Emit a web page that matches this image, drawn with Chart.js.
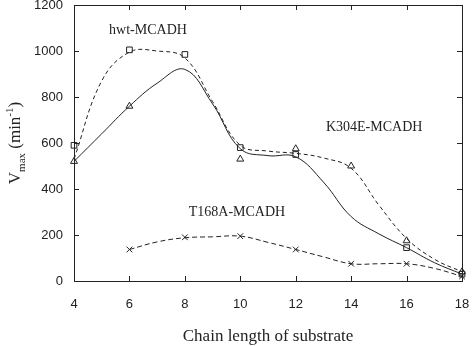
<!DOCTYPE html>
<html>
<head>
<meta charset="utf-8">
<script src="https://cdn.jsdelivr.net/npm/chart.js@4"></script>
<style>
  html, body { margin: 0; padding: 0; background: #fff; }
  #wrap { width: 474px; height: 346px; }
</style>
</head>
<body>
<div id="wrap"><canvas id="chart"></canvas></div>
<script>
// chain length ticks
const xTicks = [4, 6, 8, 10, 12, 14, 16, 18];
const yTicks = [0, 200, 400, 600, 800, 1000, 1200];

// measured points
const squareX = [4, 6, 8, 10, 12, 16, 18];
const squareY = [590, 1005, 985, 580, 550, 145, 30];
const triangleX = [4, 6, 10, 12, 14, 16, 18];
const triangleY = [520, 760, 530, 575, 500, 175, 40];
const crossX = [6, 8, 10, 12, 14, 16, 18];
const crossY = [137, 190, 195, 137, 75, 75, 20];

// fitted curves
const curveX = [4, 5, 6, 7, 8, 9, 10, 11, 12, 13, 14, 15, 16, 17, 18];
const hwtCurve = [530, 870, 995, 1000, 970, 780, 590, 565, 555, 535, 490, 330, 185, 95, 40];
const k304Curve = [520, 640, 760, 860, 920, 770, 575, 545, 540, 430, 280, 205, 145, 80, 30];
const t168X = [6, 7, 8, 9, 10, 11, 12, 13, 14, 15, 16, 17, 18];
const t168Curve = [137, 170, 188, 192, 195, 168, 137, 105, 75, 75, 75, 55, 20];

const labels = [
    { text: "hwt-MCADH", x: 6.67, y: 1092 },
    { text: "K304E-MCADH", x: 14.83, y: 667 },
    { text: "T168A-MCADH", x: 9.88, y: 299 }
];

const pts = (xs, ys) => xs.map((x, i) => ({ x: x, y: ys[i] }));
const ink = '#222';

// frame, inward ticks, axis titles and curve labels
const decor = {
    id: 'decor',
    afterDatasetsDraw(chart) {
        const { ctx, chartArea: a, scales: { x, y } } = chart;
        ctx.save();
        ctx.strokeStyle = ink;
        ctx.lineWidth = 1;
        ctx.strokeRect(a.left + 0.5, a.top + 0.5, a.right - a.left, a.bottom - a.top);
        ctx.beginPath();
        xTicks.forEach(v => {
            const px = Math.round(x.getPixelForValue(v)) + 0.5;
            ctx.moveTo(px, a.bottom); ctx.lineTo(px, a.bottom - 5);
            ctx.moveTo(px, a.top); ctx.lineTo(px, a.top + 5);
        });
        yTicks.forEach(v => {
            const py = Math.round(y.getPixelForValue(v)) + 0.5;
            ctx.moveTo(a.left, py); ctx.lineTo(a.left + 5, py);
            ctx.moveTo(a.right, py); ctx.lineTo(a.right - 5, py);
        });
        ctx.stroke();

        ctx.fillStyle = ink;
        ctx.textAlign = 'center';
        ctx.textBaseline = 'middle';
        ctx.font = '14px "Liberation Serif"';
        labels.forEach(l => {
            ctx.fillText(l.text, x.getPixelForValue(l.x), y.getPixelForValue(l.y));
        });

        // x title
        ctx.font = '17px "Liberation Serif"';
        ctx.fillText('Chain length of substrate', (a.left + a.right) / 2, 337);

        // y title with subscript / superscript
        ctx.translate(16, (a.top + a.bottom) / 2);
        ctx.rotate(-Math.PI / 2);
        ctx.textAlign = 'left';
        const p1 = 'V', p2 = 'max', p3 = ' (min', p4 = '-1', p5 = ')';
        ctx.font = '17px "Liberation Serif"';
        const w1 = ctx.measureText(p1).width, w3 = ctx.measureText(p3).width, w5 = ctx.measureText(p5).width;
        ctx.font = '11px "Liberation Serif"';
        const w2 = ctx.measureText(p2).width, w4 = ctx.measureText(p4).width;
        let cx = -(w1 + w2 + w3 + w4 + w5) / 2;
        ctx.font = '17px "Liberation Serif"';
        ctx.fillText(p1, cx, 0); cx += w1;
        ctx.font = '11px "Liberation Serif"';
        ctx.fillText(p2, cx, 6); cx += w2;
        ctx.font = '17px "Liberation Serif"';
        ctx.fillText(p3, cx, 0); cx += w3;
        ctx.font = '11px "Liberation Serif"';
        ctx.fillText(p4, cx, -6); cx += w4;
        ctx.font = '17px "Liberation Serif"';
        ctx.fillText(p5, cx, 0);
        ctx.restore();
    }
};

new Chart(document.getElementById('chart'), {
    type: 'scatter',
    data: {
        datasets: [
            { data: pts(curveX, hwtCurve), showLine: true, tension: 0.4, borderColor: ink, borderWidth: 1, borderDash: [4, 3], pointRadius: 0 },
            { data: pts(curveX, k304Curve), showLine: true, tension: 0.4, borderColor: ink, borderWidth: 1, pointRadius: 0 },
            { data: pts(t168X, t168Curve), showLine: true, tension: 0.4, borderColor: ink, borderWidth: 1, borderDash: [5, 3], pointRadius: 0 },
            { data: pts(squareX, squareY), pointStyle: 'rect', pointRadius: 4, borderColor: ink, borderWidth: 1, backgroundColor: 'transparent' },
            { data: pts(triangleX, triangleY), pointStyle: 'triangle', pointRadius: 4, borderColor: ink, borderWidth: 1, backgroundColor: 'transparent' },
            { data: pts(crossX, crossY), pointStyle: 'crossRot', pointRadius: 4, borderColor: ink, borderWidth: 1 }
        ]
    },
    options: {
        responsive: true,
        maintainAspectRatio: false,
        animation: false,
        clip: false,
        layout: { padding: { left: 0, right: 12, top: 4, bottom: 0 } },
        plugins: { legend: { display: false }, tooltip: { enabled: false } },
        scales: {
            x: {
                type: 'linear', min: 4, max: 18,
                afterBuildTicks: s => { s.ticks = xTicks.map(v => ({ value: v })); },
                afterFit: s => { s.height = 65; s.paddingLeft = 0; s.paddingRight = 0; },
                grid: { drawOnChartArea: false, drawTicks: false },
                border: { display: false },
                ticks: { color: ink, padding: 16, font: { family: 'Liberation Sans', size: 13 }, callback: v => String(v) }
            },
            y: {
                type: 'linear', min: 0, max: 1200,
                afterBuildTicks: s => { s.ticks = yTicks.map(v => ({ value: v })); },
                afterFit: s => { s.width = 74; s.paddingTop = 0; s.paddingBottom = 0; },
                grid: { drawOnChartArea: false, drawTicks: false },
                border: { display: false },
                ticks: { color: ink, padding: 11, font: { family: 'Liberation Sans', size: 13 }, callback: v => String(v) }
            }
        }
    },
    plugins: [decor]
});
</script>
</body>
</html>
